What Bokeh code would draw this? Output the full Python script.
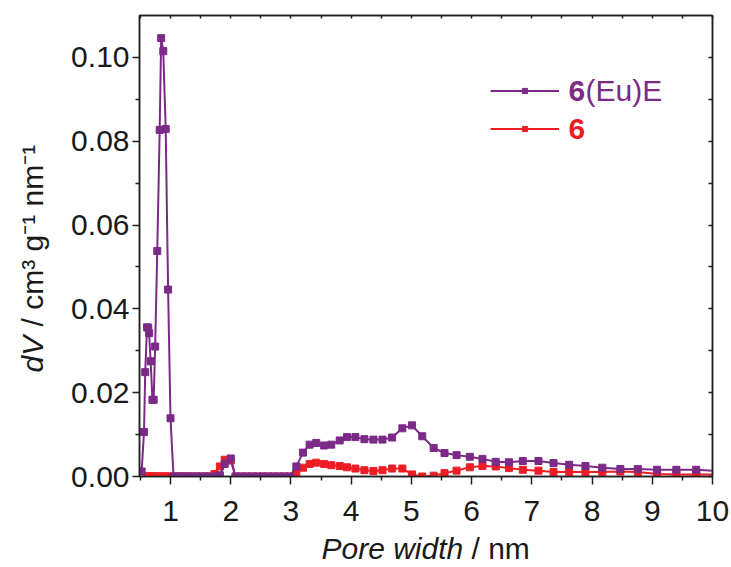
import math
from bokeh.plotting import figure
from bokeh.models import (Range1d, FixedTicker, NumeralTickFormatter, LinearAxis,
                          Label, Legend, LegendItem, Title)
from bokeh.embed import file_html
from bokeh.resources import INLINE

NAN = float("nan")

# ---- data ----
pore_width = [0.52, 0.56, 0.58, 0.61, 0.63, 0.645, 0.67, 0.70, 0.72, 0.745, 0.78, 0.82, 0.845, 0.88, 0.92, 0.96, 1.00,
              1.05, 1.11, 1.17, 1.24, 1.30, 1.37, 1.44, 1.51, 1.58, 1.65,
              1.73, 1.82, 1.90, 2.00, 2.08,
              2.17, 2.26, 2.35, 2.44, 2.53, 2.62, 2.71, 2.80, 2.89, 2.98,
              3.09, 3.20, 3.31, 3.42, 3.55, 3.67, 3.81, 3.93, 4.07, 4.22, 4.37, 4.52, 4.68, 4.85, 5.01, 5.18,
              5.37, 5.55, 5.75, 5.97, 6.18, 6.40, 6.62, 6.85, 7.11, 7.36, 7.62, 7.89, 8.17, 8.47, 8.76,
              9.08, 9.40, 9.73, 10.08]

dv_6EuE = [0.0012, 0.0106, 0.0249, 0.0356, 0.0355, 0.0342, 0.0275, 0.0183, 0.0183, 0.0310, 0.0538, 0.0827, 0.1046,
           0.1015, 0.0829, 0.0446, 0.0139,
           0, 0, 0, 0, 0, 0, 0, 0, 0, 0,
           0, 0.0003, 0.0030, 0.0043, 0,
           0, 0, 0, 0, 0, 0, 0, 0, 0, 0,
           0.0024, 0.0057, 0.0076, 0.0080, 0.0074, 0.0076, 0.0086, 0.0094, 0.0094, 0.0089, 0.0088, 0.0088, 0.0093,
           0.0115, 0.0122, 0.0096, 0.0068, 0.0056, 0.0051, 0.0047, 0.0042, 0.0035, 0.0034, 0.0037, 0.0037, 0.0032,
           0.0028, 0.0025, 0.0021, 0.0018, 0.0018, 0.0016, 0.0016, 0.0016, 0.0013]

dv_6 = [NAN, NAN, NAN, 0, 0, 0, 0, 0, 0, 0, 0, 0, 0, 0, 0, 0, 0,
        0, 0, 0, 0, 0, 0, 0, 0, 0, 0,
        0.0006, 0.0024, 0.0040, 0.0038, 0,
        0, 0, 0, 0, 0, 0, 0, 0, 0, 0,
        0.0008, 0.0021, 0.0030, 0.0033, 0.0030, 0.0027, 0.0025, 0.0022, 0.0019, 0.0015, 0.0013, 0.0015, 0.0019,
        0.0019, 0.0005, 0.0000, 0.0002, 0.0008, 0.0014, 0.0022, 0.0025, 0.0024, 0.0020, 0.0016, 0.0014, 0.0011,
        0.0011, 0.0011, 0.0011, 0.0012, 0.0011, 0.0006, 0.0005, 0.0005, 0.0005]

x_ticks = [1, 2, 3, 4, 5, 6, 7, 8, 9, 10]
x_minor = [0.5, 1.5, 2.5, 3.5, 4.5, 5.5, 6.5, 7.5, 8.5, 9.5]
y_ticks = [0.0, 0.02, 0.04, 0.06, 0.08, 0.10]
y_minor = [0.01, 0.03, 0.05, 0.07, 0.09]

PURPLE = "#7B2A87"
RED = "#EE1D25"
AXIS = "#231F20"
TXT = "#1a1a1a"
FONT = "Liberation Sans"

X0, X1 = 0.485, 10.0
Y0, Y1 = 0.0, 0.11

p = figure(width=731, height=567, output_backend="svg", toolbar_location=None,
           x_range=Range1d(X0, X1), y_range=Range1d(Y0, Y1),
           min_border_left=139, min_border_right=19, min_border_top=15, min_border_bottom=91)
p.xgrid.visible = False
p.ygrid.visible = False
p.outline_line_color = AXIS
p.outline_line_width = 1.5
p.background_fill_color = "white"
p.border_fill_color = "white"

r_red_l = p.line(pore_width, dv_6, color=RED, line_width=2)
r_red_m = p.scatter(pore_width, dv_6, marker="square", size=7, color=RED)
r_pur_l = p.line(pore_width, dv_6EuE, color=PURPLE, line_width=2)
r_pur_m = p.scatter(pore_width, dv_6EuE, marker="square", size=7, color=PURPLE)

def style_axis(ax, ticks, minor):
    ax.ticker = FixedTicker(ticks=ticks, minor_ticks=minor)
    ax.axis_line_color = AXIS
    ax.axis_line_width = 1.5
    ax.major_tick_line_color = AXIS
    ax.major_tick_line_width = 1.5
    ax.minor_tick_line_color = AXIS
    ax.minor_tick_line_width = 1.5
    ax.major_label_text_font = FONT
    ax.major_label_text_font_size = "30px"
    ax.major_label_text_color = TXT

xa = p.xaxis[0]
style_axis(xa, x_ticks, x_minor)
xa.major_tick_in = 0
xa.major_tick_out = 8
xa.minor_tick_in = 0
xa.minor_tick_out = 4
xa.major_label_standoff = 16

ya = p.yaxis[0]
style_axis(ya, y_ticks, y_minor)
ya.formatter = NumeralTickFormatter(format="0.00")
ya.major_tick_in = 0
ya.major_tick_out = 7
ya.minor_tick_in = 0
ya.minor_tick_out = 4
ya.major_label_standoff = 3

# top and right frame axes: only small inward ticks, no labels
top = LinearAxis()
style_axis(top, [], sorted(x_ticks + x_minor))
top.minor_tick_in = 3
top.minor_tick_out = 0
p.add_layout(top, "above")

right = LinearAxis()
style_axis(right, [], sorted(y_ticks + y_minor))
right.minor_tick_in = 4
right.minor_tick_out = 0
p.add_layout(right, "right")

# x title: italic "Pore width" + upright "/ nm" (two titles in the bottom panel)
TITLE_STANDOFF = -83
p.add_layout(Title(text="Pore width", align="left", offset=182, vertical_align="bottom", standoff=TITLE_STANDOFF,
                   text_font=FONT, text_font_size="30px", text_font_style="italic", text_color=TXT), "below")
p.add_layout(Title(text="/ nm", align="left", offset=332, vertical_align="bottom", standoff=TITLE_STANDOFF,
                   text_font=FONT, text_font_size="30px", text_font_style="normal", text_color=TXT), "below")

# legend samples (line + marker), text drawn separately
legend = Legend(items=[LegendItem(label=" ", renderers=[r_pur_l, r_pur_m]),
                       LegendItem(label=" ", renderers=[r_red_l, r_red_m])],
                location=(351, 341), glyph_width=69, glyph_height=13, label_height=13,
                label_text_font_size="10px", spacing=25, padding=0, margin=0,
                border_line_color=None, background_fill_alpha=0, label_standoff=0,
                label_width=1)
p.add_layout(legend)

p.add_layout(Label(x=429, y=386, x_units="screen", y_units="screen", text="6",
                   text_font=FONT, text_font_size="30px", text_font_style="bold",
                   text_color=PURPLE, text_baseline="middle", text_align="left"))
p.add_layout(Label(x=446, y=386, x_units="screen", y_units="screen", text="(Eu)E",
                   text_font=FONT, text_font_size="30px",
                   text_color=PURPLE, text_baseline="middle", text_align="left"))
p.add_layout(Label(x=429, y=348, x_units="screen", y_units="screen", text="6",
                   text_font=FONT, text_font_size="30px", text_font_style="bold",
                   text_color=RED, text_baseline="middle", text_align="left"))

# y title, placed in the left side panel so it is not clipped to the frame
FRAME_L, FRAME_W = 139, 573
FRAME_B, FRAME_H = 476, 461
def dx(px):  # window pixel -> data x
    return X0 + (px - FRAME_L) * (X1 - X0) / FRAME_W
def dy(py):  # window pixel -> data y
    return Y0 + (FRAME_B - py) * (Y1 - Y0) / FRAME_H

p.add_layout(Label(x=dx(32), y=dy(372), text="dV",
                   text_font=FONT, text_font_size="30px", text_font_style="italic", angle=math.pi / 2,
                   text_color=TXT, text_baseline="middle", text_align="left"), "left")
p.add_layout(Label(x=dx(32), y=dy(326), text="/ cm\u00b3 g\u207b\u00b9 nm\u207b\u00b9",
                   text_font=FONT, text_font_size="30px", angle=math.pi / 2,
                   text_color=TXT, text_baseline="middle", text_align="left"), "left")

open("out.html", "w").write(file_html(p, INLINE))
